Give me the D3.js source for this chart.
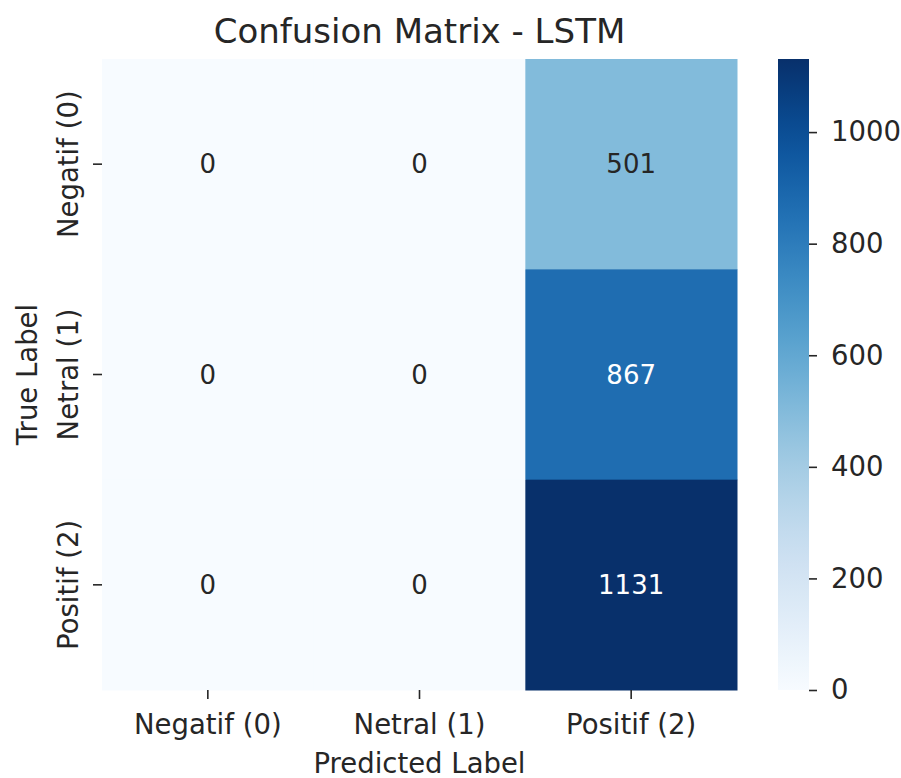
<!DOCTYPE html>
<html>
<head>
<meta charset="utf-8">
<script src="https://cdn.jsdelivr.net/npm/d3@7.9.0/dist/d3.min.js"></script>
<style>
  body { margin: 0; background: #fff; }
  text { font-family: "DejaVu Sans", sans-serif; fill: #262626; }
</style>
</head>
<body>
<svg width="901" height="778"></svg>
<script>
const predLabels = ["Negatif (0)", "Netral (1)", "Positif (2)"];
const trueLabels = ["Negatif (0)", "Netral (1)", "Positif (2)"];
const matrix = [
  [0, 0, 501],
  [0, 0, 867],
  [0, 0, 1131]
];
const barTicks = [0, 200, 400, 600, 800, 1000];

const svg = d3.select("svg");
const plotLeft = 102, plotTop = 59, plotRight = 737, plotBottom = 690;
const fs = "27.5px";

const cells = [];
matrix.forEach((row, i) => row.forEach((v, j) => cells.push({ i, j, v })));
const vmax = d3.max(cells, d => d.v);

const x = d3.scaleBand().domain(predLabels).range([plotLeft, plotRight]);
const y = d3.scaleBand().domain(trueLabels).range([plotTop, plotBottom]);
const color = d3.scaleSequential(d3.interpolateBlues).domain([0, vmax]);

// heatmap cells
svg.append("g").selectAll("rect")
  .data(cells)
  .join("rect")
  .attr("x", d => x(predLabels[d.j]))
  .attr("y", d => y(trueLabels[d.i]))
  .attr("width", x.bandwidth() + 0.5)
  .attr("height", y.bandwidth() + 0.5)
  .attr("fill", d => color(d.v));

// annotations, dark or light depending on cell luminance
svg.append("g").selectAll("text")
  .data(cells)
  .join("text")
  .attr("x", d => x(predLabels[d.j]) + x.bandwidth() / 2)
  .attr("y", d => y(trueLabels[d.i]) + y.bandwidth() / 2)
  .attr("text-anchor", "middle")
  .attr("dominant-baseline", "central")
  .style("font-size", "26px")
  .style("fill", d => {
    const c = d3.rgb(color(d.v));
    const lum = 0.2126 * c.r / 255 + 0.7152 * c.g / 255 + 0.0722 * c.b / 255;
    return lum > 0.408 ? "#262626" : "#ffffff";
  })
  .text(d => d.v);

// axes
const xAxis = svg.append("g")
  .attr("transform", `translate(0,${plotBottom})`)
  .call(d3.axisBottom(x).tickSize(9).tickPadding(15));
xAxis.select(".domain").remove();
xAxis.selectAll("line").attr("stroke", "#262626").attr("stroke-width", 1.6);
xAxis.selectAll("text").style("font-size", fs).attr("fill", "#262626");

const yAxis = svg.append("g")
  .attr("transform", `translate(${plotLeft},0)`)
  .call(d3.axisLeft(y).tickSize(9).tickPadding(6));
yAxis.select(".domain").remove();
yAxis.selectAll("line").attr("stroke", "#262626").attr("stroke-width", 1.6);
yAxis.selectAll("text")
  .style("font-size", fs)
  .attr("fill", "#262626")
  .attr("text-anchor", "middle")
  .attr("dy", "0")
  .attr("x", 0)
  .attr("transform", "translate(-24,0) rotate(-90)");

// colorbar
const cbX = 778, cbW = 31;
const cy = d3.scaleLinear().domain([0, vmax]).range([plotBottom, plotTop]);
const defs = svg.append("defs");
const grad = defs.append("linearGradient")
  .attr("id", "cb").attr("x1", 0).attr("y1", 1).attr("x2", 0).attr("y2", 0);
d3.range(0, 1.0001, 0.05).forEach(t => {
  grad.append("stop").attr("offset", t).attr("stop-color", d3.interpolateBlues(t));
});
svg.append("rect")
  .attr("x", cbX).attr("y", plotTop)
  .attr("width", cbW).attr("height", plotBottom - plotTop)
  .attr("fill", "url(#cb)");

const cAxis = svg.append("g")
  .attr("transform", `translate(${cbX + cbW},0)`)
  .call(d3.axisRight(cy).tickValues(barTicks).tickFormat(d3.format("d")).tickSize(8).tickPadding(14));
cAxis.select(".domain").remove();
cAxis.selectAll("line").attr("stroke", "#262626").attr("stroke-width", 1.6);
cAxis.selectAll("text").style("font-size", fs).attr("fill", "#262626");

// titles
svg.append("text")
  .attr("x", (plotLeft + plotRight) / 2)
  .attr("y", 43)
  .attr("text-anchor", "middle")
  .style("font-size", "34px")
  .text("Confusion Matrix - LSTM");

svg.append("text")
  .attr("x", (plotLeft + plotRight) / 2)
  .attr("y", 773)
  .attr("text-anchor", "middle")
  .style("font-size", fs)
  .text("Predicted Label");

svg.append("text")
  .attr("transform", `translate(37,${(plotTop + plotBottom) / 2}) rotate(-90)`)
  .attr("text-anchor", "middle")
  .style("font-size", fs)
  .text("True Label");
</script>
</body>
</html>
